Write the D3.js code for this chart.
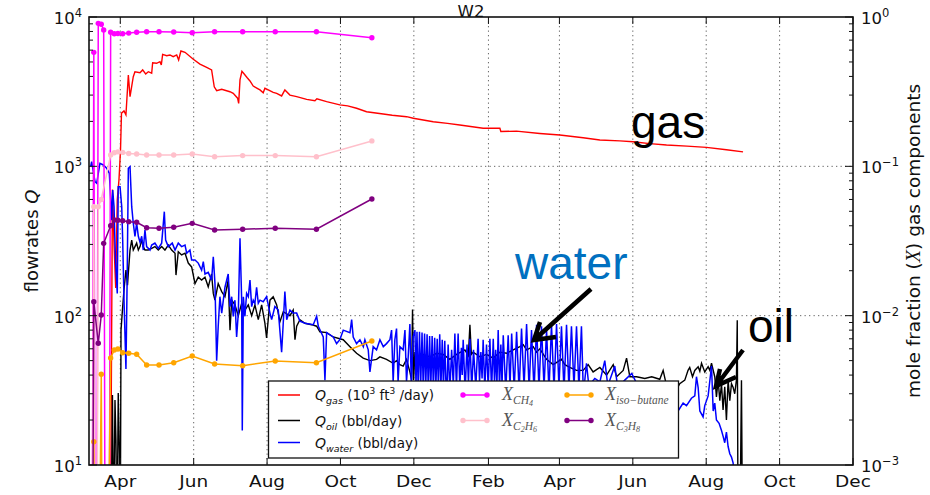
<!DOCTYPE html>
<html><head><meta charset="utf-8">
<script src="https://cdn.jsdelivr.net/npm/d3@7"></script>
<style>body{margin:0;background:#fff}svg{display:block}</style>
</head><body><svg id="c" width="930" height="495" font-family="DejaVu Sans, sans-serif"></svg>
<script>
// ---------------- data ----------------
// time: days counted from 2012-03-06
const startDate = new Date(2012, 2, 6);
const endDate = new Date(2013, 11, 1);
const monthTicks = ["2012-04-01","2012-06-01","2012-08-01","2012-10-01","2012-12-01","2013-02-01","2013-04-01","2013-06-01","2013-08-01","2013-10-01","2013-12-01"];
const monthLabels = ["Apr","Jun","Aug","Oct","Dec","Feb","Apr","Jun","Aug","Oct","Dec"];
const flowTicks = [10, 100, 1000, 10000];
const flowTickExp = ["1","2","3","4"];
const fracTicks = [0.001, 0.01, 0.1, 1];
const fracTickExp = ["\u22123","\u22122","\u22121","0"];

// Q_gas (10^3 ft^3/day): [day, value]
const gasData = [[17.9,4],[19.5,700],[20.8,300],[22.2,153],[23.5,600],[24.9,810],[26.2,1290],[27.0,2270],[29.1,2350],[30.7,2210],[32.7,4090],[34.1,2930],[36.8,3980],[38.2,4300],[42.4,4240],[44.6,4420],[47.1,4150],[49.3,4300],[52.1,4200],[52.9,4940],[56.2,4900],[59.0,5020],[60.1,4770],[61.2,5620],[64.6,5510],[67.3,5570],[70.0,5420],[72.9,5570],[74.5,5150],[76.4,5920],[79.8,5800],[86.7,5210],[92.2,4840],[97.8,4600],[101.9,4420],[104.1,3410],[106.1,3210],[110.3,3280],[117.1,3160],[119.9,3080],[123.5,2860],[124.4,2640],[125.5,3790],[127.1,4330],[129.0,4150],[131.5,3920],[133.8,3730],[136.5,3450],[139.8,3330],[142.1,3250],[144.8,3110],[146.2,3330],[149.0,3250],[153.1,3130],[156.0,3080],[160.1,2960],[162.8,3250],[167.0,3000],[172.6,2930],[180.9,2810],[187.8,2750],[189.4,2830],[197.5,2710],[208.5,2580],[215,2540],[222.4,2450],[230.7,2320],[244.5,2240],[252,2200],[264.0,2150],[269.5,2100],[286.1,1990],[298,1940],[308.2,1890],[327.6,1800],[341.5,1800],[342.3,1710],[355.3,1720],[374.7,1660],[391.3,1620],[410.7,1555],[424.6,1500],[441.2,1480],[452.2,1460],[466,1420],[480.0,1390],[497,1365],[513.2,1340],[529.8,1290],[543.6,1250]];

// Q_oil (bbl/day)
const oilData = [[18.3,3],[19.5,29.4],[20.4,3],[21.6,27.2],[22.4,14.7],[23.3,3],[24.3,30.3],[25.3,11.7],[26.0,3],[26.6,80],[28.0,115],[29.1,149],[30.7,202],[32.0,160],[32.7,193],[34.1,275],[35.5,321],[36.8,275],[38.2,290],[39.6,306],[41.0,275],[42.4,290],[43.8,321],[45.1,290],[46.5,275],[49.3,275],[52.1,282],[54.8,290],[57.6,275],[60.4,290],[63.1,275],[65.9,297],[68.7,275],[71.5,262],[72.3,187],[74.2,268],[77.0,255],[79.8,262],[82.5,225],[85.3,212],[88.1,164],[90.8,181],[93.6,173],[96.4,181],[99.1,156],[101.9,190],[103.3,141],[104.7,127],[107.4,164],[110.3,145],[113.0,134],[115.7,173],[117.2,80],[118.6,127],[121.3,118],[124.1,100],[126.9,121],[129.6,109],[132.4,118],[135.2,100],[137.9,118],[140.7,94],[143.5,118],[146.2,89],[147.6,71],[150.4,127],[153.1,134],[156.0,118],[158.7,91],[161.5,106],[164.3,103],[167.0,100],[169.7,109],[171.2,69],[172.6,85],[175.3,94],[179.5,89],[185.0,87],[189.2,85],[191.9,78],[197.5,77],[203.0,72],[211.3,69],[216.9,62],[222.4,56],[227.9,52],[233.5,50],[239.0,51],[241.8,53],[247.3,51],[252.8,48],[255.6,50],[258.4,47],[261.1,46],[263.9,51],[266.7,42],[268.1,37],[268.9,110],[269.8,37],[270.9,57],[272.3,53],[277.8,55],[283.3,53],[288.9,56],[294.4,55],[299.9,51],[305.5,55],[312.4,59],[315.3,54],[316.6,87],[317.8,55],[319.3,57],[324.9,53],[330.4,55],[335.9,52],[341.5,57],[347.1,56],[352.6,59],[358.1,62],[360.9,64],[363.7,59],[369.2,62],[372.0,57],[374.7,60],[380.3,51],[385.8,47],[392.8,51],[395.5,47],[399.6,45],[405.2,43],[410.7,43],[414.9,47],[419.0,42],[424.6,45],[430.2,40],[435.7,47],[438.5,39],[444.0,43],[446.8,52],[449.5,39],[455.1,39],[462.0,38],[467.7,39],[474.4,37.5],[477.2,43],[479.5,35.5],[482.7,34],[485.5,27],[488.3,32],[491.0,35],[495.2,37],[497.9,43],[499.3,45],[501.6,39],[503.5,43],[506.3,45.5],[507.7,42.5],[509.1,48],[511.8,42],[514.6,45.5],[516.0,43],[517.4,48],[520.1,39],[521.5,28.6],[522.9,37],[524.3,27],[525.7,35],[527.0,23.4],[528.4,33.4],[529.8,20],[531.2,37],[532.6,27],[534.0,35],[535.4,33],[536.7,30],[538.1,37],[538.8,93],[539.5,3],[540.9,3],[542.3,37],[543.2,3]];

// Q_water (bbl/day)
const waterData = [[1.4,1000],[2.2,1074],[5.0,789],[6.4,770],[9.1,1048],[11.9,1021],[14.7,970],[16.9,898],[18.9,437],[19.7,694],[20.8,537],[22.0,236],[23.5,141],[24.3,730],[25.8,730],[27.2,537],[28.0,321],[29.1,127],[30.7,44],[31.7,173],[32.7,970],[34.1,994],[35.5,537],[36.8,416],[38.2,340],[39.6,416],[41.0,340],[42.4,310],[43.8,340],[45.1,275],[46.5,375],[47.9,290],[50.7,275],[52.1,297],[54.8,306],[57.6,282],[60.4,306],[62.6,497],[63.7,321],[65.9,290],[69.2,306],[71.5,275],[74.2,306],[77.0,290],[79.8,297],[81.2,262],[83.9,275],[85.3,236],[88.1,236],[90.8,225],[93.6,202],[95.0,230],[96.4,190],[99.1,195],[101.9,173],[103.3,248],[104.7,164],[106.1,50],[107.4,85],[108.8,134],[110.3,104],[113.0,155],[115.7,190],[117.2,115],[118.6,134],[119.9,99],[121.3,127],[122.7,72],[124.1,104],[125.5,330],[126.9,127],[127.4,17],[128.3,134],[129.6,99],[131.0,141],[132.4,134],[133.8,173],[135.2,115],[136.5,127],[137.9,121],[139.3,155],[140.7,121],[142.1,127],[144.8,124],[147.6,134],[150.4,104],[151.8,94],[154.5,115],[157.3,109],[160.1,57],[161.6,94],[162.8,145],[164.3,94],[167.0,109],[169.7,104],[172.6,104],[175.3,92],[179.5,89],[186.4,87],[189.2,99],[190.6,85],[194.7,72],[196.1,37],[197.5,77],[203.0,72],[205.8,65],[208.5,69],[211.3,80],[216.9,77],[218.3,94],[219.6,72],[222.4,65],[225.2,69],[228.0,62],[229.3,69],[232.1,59],[233.5,42],[236.2,62],[239.0,59],[241.8,69],[244.6,62],[247.3,65],[250.1,69],[251.5,80],[252.8,36],[254.2,69],[255.6,82],[256.9,36],[258.4,62],[261.1,59],[262.6,80],[263.9,36],[265.3,53],[266.7,88],[267.9,34],[269.4,72],[270.9,80],
[271.8,33],[272.6,78],[273.6,32],[274.7,78],[275.7,34],[276.8,77],[277.8,32],[278.9,76],[279.9,33],[281.0,75],[282.0,31],[283.1,73],[284.1,33],[285.2,73],[286.2,32],[287.3,71],[288.3,33],[289.4,70],[290.4,32],[291.5,75],[292.5,33],[293.6,69],[294.6,32],[295.7,68],[296.7,34],
[297.6,33],[298.5,64],[299.9,31],[301.4,59],[302.8,34],[304.1,76],[305.4,32],[306.8,76],[308.2,33],[309.5,61],[310.2,40],[311.0,69],[312.6,31],[314.2,64],[315.4,35],[316.6,70],[318.1,32],[319.6,59],[321.5,33],[323.4,70],[324.6,36],[325.7,57],[326.7,38],[327.6,69],[329.0,32],[330.4,64],[331.8,33],[333.2,70],[334.6,31],[336.0,70],[337.0,36],[338.0,59],[339.0,33],[340.1,80],[341.2,32],[342.3,64],[343.3,34],[344.3,74],[346.4,31],[348.4,74],[349.9,33],[351.3,76],[353.4,32],[355.4,78],[357.5,31],[359.5,82],[361.6,33],[363.7,88],[365.8,32],[367.8,80],[369.9,31],[372.0,87],[374.0,32],[376.1,85],[378.2,33],[380.3,80],[382.3,31],[384.4,87],[386.5,32],[388.6,88],[390.6,33],[392.7,85],[394.8,31],[396.9,87],[398.9,32],[401.0,85],[403.1,33],[405.2,85],[407.2,32],[409.3,85],
[410.7,34],[412.1,37],[413.5,48],[415.4,34],[420.4,38],[424.6,36],[428.7,50],[431.2,34],[437.0,46],[439.5,33],[445.3,37],[451.1,41],[456.1,34],[462.0,36],[467.7,32],[474.4,33],[480.2,29],[485.5,25],[489.6,23],[493.8,26],[496.6,25],[500.7,28],[503.5,29],[504.9,39],[506.3,33],[507.7,23],[510.4,21],[511.8,25],[514.6,29],[517.4,46],[518.8,23],[520.1,26],[521.5,20],[523.7,19],[525.7,17],[527.0,15.6],[528.4,14.1],[529.8,16.6],[531.2,13.3],[532.6,11.9],[534.0,11.3],[535.4,10.3],[536.3,5]];

// gas-composition samples (mole fraction); 0 = not detected, null = no value for that series
const sampleDays = [1.7,4,5.8,7.7,10.2,12.2,14.1,16.2,18,21,24,28,33,39.6,47.9,58.2,70.4,85.8,104.4,127.7,154.8,189,235.1];
const xCH4      = [0,0.58,0,0.907,0.894,0.818,0,0,0.79,0.773,0.775,0.773,0.78,0.79,0.797,0.797,0.794,0.785,0.797,0.797,0.797,0.797,0.727];
const xC2H6     = [0,0.0537,0,0.0537,0.06,null,null,null,0.119,0.1234,0.125,0.124,0.122,0.121,0.119,0.119,0.119,0.121,0.116,0.118,0.118,0.116,0.148];
const xIsoButane= [0,0.00143,0,null,0.00405,0,null,null,0.00521,0.00589,0.00598,0.00565,0.0056,0.00551,0.00467,0.00467,0.00484,0.00537,0.00475,0.00462,0.00497,0.00484,0.00677];
const xC3H8     = [0,0.0124,null,0.00653,0.0101,0.0305,null,null,0.040,0.0437,0.0435,0.0432,0.0426,0.0422,0.0388,0.0385,0.0391,0.0415,0.0375,0.0379,0.0385,0.0379,0.0604];

// ---------------- drawing ----------------
const m = {l:89, r:853, t:17, b:465};
const svg = d3.select("#c");
const dayToDate = d => new Date(startDate.getTime() + d*864e5);
const x = d3.scaleTime().domain([startDate, endDate]).range([m.l, m.r]);
const yQ = d3.scaleLog().domain([10, 1e4]).range([m.b, m.t]);
const yX = d3.scaleLog().domain([1e-3, 1]).range([m.b, m.t]);
const parseD = d3.timeParse("%Y-%m-%d");
const tickDates = monthTicks.map(parseD);

svg.append("defs").append("clipPath").attr("id","clip")
  .append("rect").attr("x",m.l).attr("y",m.t).attr("width",m.r-m.l).attr("height",m.b-m.t);

// grid
const grid = svg.append("g").attr("stroke","#666").attr("stroke-width",1).attr("stroke-dasharray","1.3,3.2");
tickDates.forEach(d => { const px = x(d); if (px > m.l+1 && px < m.r-1) grid.append("line").attr("x1",px).attr("x2",px).attr("y1",m.t).attr("y2",m.b); });
[100,1000].forEach(v => grid.append("line").attr("x1",m.l).attr("x2",m.r).attr("y1",yQ(v)).attr("y2",yQ(v)));

const plot = svg.append("g").attr("clip-path","url(#clip)");
const lineQ = d3.line().x(d => x(dayToDate(d[0]))).y(d => yQ(Math.max(d[1], 1e-3)));
plot.append("path").datum(gasData).attr("d",lineQ).attr("fill","none").attr("stroke","#ff0000").attr("stroke-width",1.4);
plot.append("path").datum(oilData).attr("d",lineQ).attr("fill","none").attr("stroke","#000").attr("stroke-width",1.4);
plot.append("path").datum(waterData).attr("d",lineQ).attr("fill","none").attr("stroke","#0000ff").attr("stroke-width",1.5);

const xSeries = [
  {vals:xCH4, color:"#ff00ff"},
  {vals:xC2H6, color:"#ffc0cb"},
  {vals:xIsoButane, color:"#ffa500"},
  {vals:xC3H8, color:"#800080"}
];
const lineX = d3.line().x(d => x(dayToDate(d[0]))).y(d => yX(Math.max(d[1], 1e-6)));
xSeries.forEach(s => {
  const pts = sampleDays.map((d,i) => [d, s.vals[i]]).filter(p => p[1] !== null);
  plot.append("path").datum(pts).attr("d",lineX).attr("fill","none").attr("stroke",s.color).attr("stroke-width",1.5);
  plot.selectAll(null).data(pts.filter(p => p[1] > 0)).enter().append("circle")
    .attr("cx", d => x(dayToDate(d[0]))).attr("cy", d => yX(d[1])).attr("r",2.7).attr("fill",s.color);
});

// frame & ticks
const ax = svg.append("g").attr("stroke","#111").attr("stroke-width",1);
function decadeMinors(lo, hi){ const out=[]; for(let e=lo;e<hi;e*=10) for(let k=2;k<=9;k++) out.push(e*k); return out; }
decadeMinors(10,1e4).forEach(v => ax.append("line").attr("x1",m.l).attr("x2",m.l+4).attr("y1",yQ(v)).attr("y2",yQ(v)));
decadeMinors(1e-3,1).forEach(v => ax.append("line").attr("x1",m.r).attr("x2",m.r-4).attr("y1",yX(v)).attr("y2",yX(v)));
flowTicks.forEach(v => ax.append("line").attr("x1",m.l).attr("x2",m.l+8).attr("y1",yQ(v)).attr("y2",yQ(v)));
fracTicks.forEach(v => ax.append("line").attr("x1",m.r).attr("x2",m.r-8).attr("y1",yX(v)).attr("y2",yX(v)));
tickDates.forEach(d => {
  ax.append("line").attr("x1",x(d)).attr("x2",x(d)).attr("y1",m.b).attr("y2",m.b-7);
  ax.append("line").attr("x1",x(d)).attr("x2",x(d)).attr("y1",m.t).attr("y2",m.t+7);
});
svg.append("rect").attr("x",m.l).attr("y",m.t).attr("width",m.r-m.l).attr("height",m.b-m.t)
  .attr("fill","none").attr("stroke","#111").attr("stroke-width",1.6);

// helper: widen text slightly (the reference picture is stretched horizontally)
function widen(t, f){ const n = t.node(); const w = n.getComputedTextLength(); t.attr("textLength", w*f).attr("lengthAdjust","spacingAndGlyphs"); }

// tick labels
const tl = svg.append("g").attr("fill","#111").attr("font-size",16.5);
flowTicks.forEach((v,i) => {
  const t = tl.append("text").attr("x",82).attr("y",yQ(v)+7).attr("text-anchor","end");
  t.append("tspan").text("10");
  t.append("tspan").attr("font-size",11.5).attr("dy",-7).text(flowTickExp[i]);
});
fracTicks.forEach((v,i) => {
  const t = tl.append("text").attr("x",861).attr("y",yX(v)+7);
  t.append("tspan").text("10");
  t.append("tspan").attr("font-size",11.5).attr("dy",-7).text(fracTickExp[i]);
});
tickDates.forEach((d,i) => {
  const t = tl.append("text").attr("x",x(d)).attr("y",487).attr("text-anchor","middle").text(monthLabels[i]);
  widen(t, 1.12);
});

// title & axis labels
svg.append("text").attr("x",(m.l+m.r)/2).attr("y",17).attr("text-anchor","middle").attr("font-size",16.5).attr("fill","#111").text("W2");
const yl = svg.append("text").attr("transform","translate(38,241) rotate(-90)").attr("text-anchor","middle").attr("font-size",18).attr("fill","#111");
yl.append("tspan").text("flowrates ");
yl.append("tspan").attr("font-style","italic").text("Q");
const yr = svg.append("text").attr("transform","translate(920,241) rotate(-90)").attr("text-anchor","middle").attr("font-size",18.5).attr("fill","#111");
yr.append("tspan").text("mole fraction (");
yr.append("tspan").attr("font-style","italic").attr("font-family","Liberation Serif, serif").attr("font-size",20).text("X");
yr.append("tspan").text(") gas components");

// legend
const lg = svg.append("g");
lg.append("rect").attr("x",268.5).attr("y",381).attr("width",410).attr("height",77).attr("fill","#fff").attr("stroke","#111").attr("stroke-width",1.3);
const rowsY = [395, 420.5, 442.5];
const qItems = [
  {color:"#ff0000", parts:[["Q",14,"i",0],["gas",9.5,"i",4],[" (10",13.5,"",-4],["3",9,"",-6],[" ft",13.5,"",6],["3",9,"",-6],[" /day)",13.5,"",6]]},
  {color:"#000000", parts:[["Q",14,"i",0],["oil",9.5,"i",4],[" (bbl/day)",13.5,"",-4]]},
  {color:"#0000ff", parts:[["Q",14,"i",0],["water",9.5,"i",4],[" (bbl/day)",13.5,"",-4]]}
];
function rich(g, px, py, parts, family, fill){
  const t = g.append("text").attr("x",px).attr("y",py).attr("fill",fill);
  if (family) t.attr("font-family",family);
  parts.forEach(p => t.append("tspan").attr("font-size",p[1]).attr("font-style",p[2]==="i"?"italic":null).attr("dy",p[3]).text(p[0]));
  return t;
}
qItems.forEach((it,i) => {
  lg.append("line").attr("x1",278).attr("x2",300).attr("y1",rowsY[i]).attr("y2",rowsY[i]).attr("stroke",it.color).attr("stroke-width",1.5);
  rich(lg, 315, rowsY[i]+5, it.parts, null, "#111");
});
const xItems = [
  {color:"#ff00ff", cx:463, tx:502, row:0, parts:[["X",18,"i",0],["CH",11.5,"i",4],["4",8,"i",2]]},
  {color:"#ffc0cb", cx:463, tx:502, row:1, parts:[["X",18,"i",0],["C",11.5,"i",4],["2",8,"i",2],["H",11.5,"i",-2],["6",8,"i",2]]},
  {color:"#ffa500", cx:567, tx:605, row:0, parts:[["X",18,"i",0],["iso\u2212butane",11.5,"i",4]]},
  {color:"#800080", cx:567, tx:605, row:1, parts:[["X",18,"i",0],["C",11.5,"i",4],["3",8,"i",2],["H",11.5,"i",-2],["8",8,"i",2]]}
];
xItems.forEach(it => {
  const yy = rowsY[it.row];
  lg.append("line").attr("x1",it.cx).attr("x2",it.cx+24).attr("y1",yy).attr("y2",yy).attr("stroke",it.color).attr("stroke-width",1.5);
  [it.cx, it.cx+24].forEach(cx => lg.append("circle").attr("cx",cx).attr("cy",yy).attr("r",2.7).attr("fill",it.color));
  rich(lg, it.tx, yy+5, it.parts, "Liberation Serif, serif", "#555");
});

// annotations
const an = svg.append("g").attr("font-family","Liberation Sans, Arial, sans-serif").attr("font-size",46);
an.append("text").attr("x",631).attr("y",138).attr("fill","#000").text("gas");
an.append("text").attr("x",515).attr("y",279).attr("fill","#0070c0").text("water");
an.append("text").attr("x",748).attr("y",342).attr("fill","#000").text("oil");
const arrows = [
  {tail:[591,289], tip:[534,340], a1:[540,322], a2:[556,337]},
  {tail:[743,350], tip:[716,386], a1:[720,369], a2:[736,377]}
];
arrows.forEach(a => {
  svg.append("path").attr("d",`M${a.tail}L${a.tip}M${a.a1}L${a.tip}L${a.a2}`)
    .attr("fill","none").attr("stroke","#000").attr("stroke-width",4.5).attr("stroke-linejoin","miter");
});
</script></body></html>
